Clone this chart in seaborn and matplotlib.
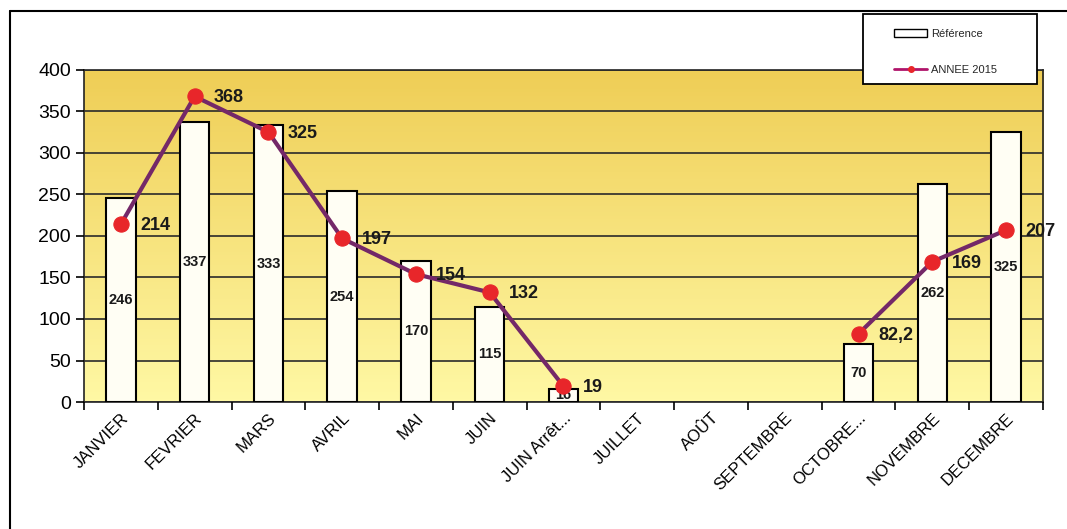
import numpy as np
import pandas as pd
import matplotlib
matplotlib.use('Agg')
import matplotlib.pyplot as plt
import seaborn as sns
from matplotlib.lines import Line2D
from matplotlib.patches import Patch, Rectangle
from matplotlib.colors import LinearSegmentedColormap

# data
mois = ['JANVIER', 'FEVRIER', 'MARS', 'AVRIL', 'MAI', 'JUIN', 'JUIN Arrêt...',
        'JUILLET', 'AOÛT', 'SEPTEMBRE', 'OCTOBRE...', 'NOVEMBRE', 'DECEMBRE']
reference = [246, 337, 333, 254, 170, 115, 16, np.nan, np.nan, np.nan, 70, 262, 325]
annee_2015 = [214, 368, 325, 197, 154, 132, 19, np.nan, np.nan, np.nan, 82.2, 169, 207]
annee_labels = ['214', '368', '325', '197', '154', '132', '19', '', '', '', '82,2', '169', '207']

df = pd.DataFrame({'Mois': mois, 'Référence': reference, 'ANNEE 2015': annee_2015})
df['pos'] = np.arange(len(df))

sns.set_style('white')
plt.rcParams['font.family'] = ['Liberation Sans', 'DejaVu Sans']

fig = plt.figure(figsize=(10.67, 5.29), dpi=100)
ax = fig.add_axes([0.0787, 0.24, 0.8988, 0.628])

# yellow gradient background
cmap = LinearSegmentedColormap.from_list('jaune', ['#FFF8A4', '#EFCE56'])
ax.imshow(np.linspace(0, 1, 100).reshape(-1, 1), cmap=cmap, aspect='auto',
          extent=(-0.5, 12.5, 0, 400), origin='lower', zorder=0)

sns.barplot(data=df, x='Mois', y='Référence', order=mois, color='#FFFEF4',
            edgecolor='black', linewidth=1.5, width=0.4, saturation=1, ax=ax, zorder=3)
for i, v in enumerate(reference):
    if not np.isnan(v):
        ax.text(i, v / 2, f'{v:.0f}', ha='center', va='center', fontsize=10.5,
                fontweight='bold', color='#1a1a1a', zorder=4)

# line drawn per contiguous segment (gaps for summer months)
seg = df['ANNEE 2015'].notna()
grp = (seg != seg.shift()).cumsum()
for _, part in df[seg].groupby(grp[seg]):
    sns.lineplot(x=part['pos'], y=part['ANNEE 2015'], color='#742868', linewidth=3,
                 marker='o', markersize=11, markerfacecolor='#E8262A', markeredgecolor='#E8262A',
                 ax=ax, zorder=5)

for i, (v, t) in enumerate(zip(annee_2015, annee_labels)):
    if not np.isnan(v):
        ax.annotate(t, (i, v), xytext=(14, -1), textcoords='offset points',
                    fontsize=13, fontweight='bold', color='#1a1a1a', va='center', zorder=6)

ax.set_xlim(-0.5, 12.5)
ax.set_ylim(0, 400)
ax.set_yticks(range(0, 401, 50))
ax.yaxis.grid(True, color='#2a2a2a', linewidth=1.2)
ax.set_axisbelow(False)
for line in ax.get_ygridlines():
    line.set_zorder(1)
ax.set_xlabel('')
ax.set_ylabel('')
ax.set_xticks(range(len(mois)))
ax.set_xticklabels(mois, rotation=45, ha='right', rotation_mode='anchor', fontsize=12, color='black')
ax.set_xticks(np.arange(-0.5, 13, 1), minor=True)
ax.tick_params(axis='x', which='major', length=0, pad=6)
ax.tick_params(axis='x', which='minor', length=6, width=1.2, color='black', direction='out', bottom=True)
ax.tick_params(axis='y', length=6, width=1.2, color='black', direction='out', left=True,
               labelsize=14, labelcolor='black')
for s in ax.spines.values():
    s.set_color('#222222')
    s.set_linewidth(1.2)

# legend box drawn separately so it can be wider than its content
fig.add_artist(Rectangle((0.809, 0.841), 0.163, 0.132, transform=fig.transFigure,
                         facecolor='white', edgecolor='black', linewidth=1.3, zorder=9))
handles = [Patch(facecolor='white', edgecolor='black', linewidth=1),
           Line2D([0], [0], color='#B0146A', linewidth=2, marker='o', markersize=4,
                  markerfacecolor='#E8262A', markeredgecolor='#E8262A')]
leg = fig.legend(handles, ['Référence', 'ANNEE 2015'], loc='upper left',
                 bbox_to_anchor=(0.838, 0.946), fontsize=8, frameon=False,
                 borderpad=0, labelspacing=2.4, handlelength=3.0, handletextpad=0.3,
                 borderaxespad=0)
leg.set_zorder(10)

# outer chart border (left and top)
fig.add_artist(Line2D([0.009, 0.009], [0, 0.98], color='black', linewidth=1.5, transform=fig.transFigure))
fig.add_artist(Line2D([0.009, 1.0], [0.98, 0.98], color='black', linewidth=1.5, transform=fig.transFigure))

fig.savefig('out.png', dpi=100)
